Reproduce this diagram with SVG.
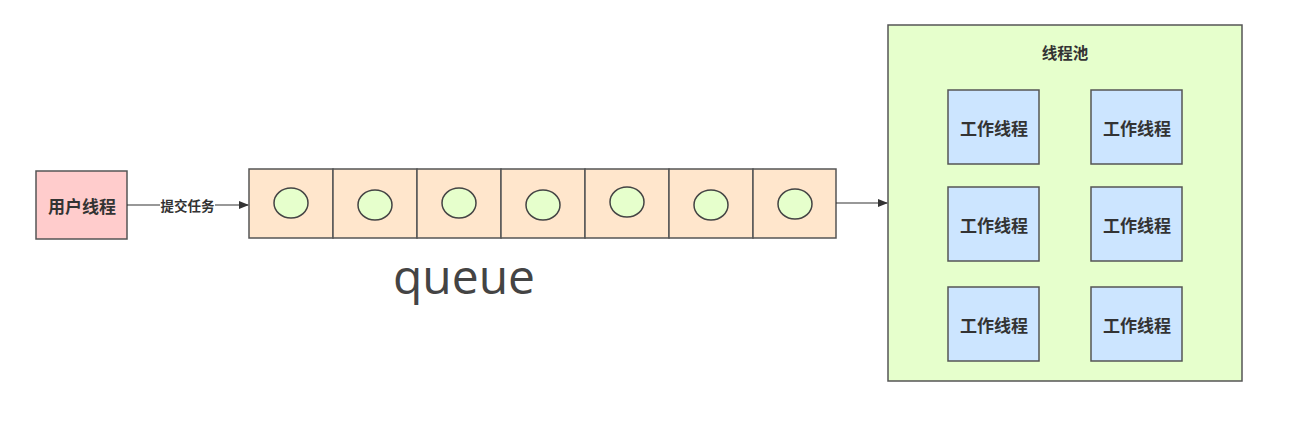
<svg xmlns="http://www.w3.org/2000/svg" width="1293" height="424" viewBox="0 0 1293 424">
<defs>
<style>
.box{stroke:#555;stroke-width:1.5}
.t{font-family:"Noto Sans CJK SC","Noto Sans",sans-serif;fill:#333;text-anchor:middle;dominant-baseline:central;font-weight:bold}
.cell{fill:#ffe6cc;stroke:#555;stroke-width:1.5}
.dot{fill:#e6ffcc;stroke:#444;stroke-width:1.5}
.w{fill:#cce5ff;stroke:#555;stroke-width:1.5}
.edge{stroke:#333;stroke-width:1.2;fill:none}
</style>
<marker id="ah" markerWidth="10" markerHeight="8" refX="9" refY="4" orient="auto" markerUnits="userSpaceOnUse">
<path d="M0,0 L10,4 L0,8 Z" fill="#333"/>
</marker>
</defs>
<rect width="1293" height="424" fill="#fff"/>
<g id="user-thread">
<rect x="36" y="171" width="91" height="68" fill="#ffcccc" class="box"/>
<text x="82" y="205" class="t" font-size="17">用户线程</text>
</g>
<g id="queue">
<rect x="249" y="169" width="84" height="69" class="cell"/>
<rect x="333" y="169" width="84" height="69" class="cell"/>
<rect x="417" y="169" width="84" height="69" class="cell"/>
<rect x="501" y="169" width="84" height="69" class="cell"/>
<rect x="585" y="169" width="84" height="69" class="cell"/>
<rect x="669" y="169" width="84" height="69" class="cell"/>
<rect x="753" y="169" width="83" height="69" class="cell"/>
<ellipse cx="291" cy="203" rx="17" ry="15" class="dot"/>
<ellipse cx="375" cy="205" rx="17" ry="15" class="dot"/>
<ellipse cx="459" cy="203" rx="17" ry="15" class="dot"/>
<ellipse cx="543" cy="205" rx="17" ry="15" class="dot"/>
<ellipse cx="627" cy="202" rx="17" ry="15" class="dot"/>
<ellipse cx="711" cy="205" rx="17" ry="15" class="dot"/>
<ellipse cx="795" cy="204" rx="17" ry="15" class="dot"/>
<text x="464" y="294" font-family="'Open Sans','Noto Sans',sans-serif" font-size="48" fill="#444" text-anchor="middle">queue</text>
</g>
<g id="thread-pool">
<rect x="888" y="25" width="354" height="356" fill="#e6ffcc" class="box"/>
<text x="1065" y="52" class="t" font-size="15.5">线程池</text>
</g>
<g id="worker-1"><rect x="948" y="90" width="91" height="74" class="w"/><text x="994" y="127" class="t" font-size="17">工作线程</text></g>
<g id="worker-2"><rect x="1091" y="90" width="91" height="74" class="w"/><text x="1137" y="127" class="t" font-size="17">工作线程</text></g>
<g id="worker-3"><rect x="948" y="187" width="91" height="74" class="w"/><text x="994" y="224" class="t" font-size="17">工作线程</text></g>
<g id="worker-4"><rect x="1091" y="187" width="91" height="74" class="w"/><text x="1137" y="224" class="t" font-size="17">工作线程</text></g>
<g id="worker-5"><rect x="948" y="287" width="91" height="74" class="w"/><text x="994" y="324" class="t" font-size="17">工作线程</text></g>
<g id="worker-6"><rect x="1091" y="287" width="91" height="74" class="w"/><text x="1137" y="324" class="t" font-size="17">工作线程</text></g>
<g id="connectors">
<path d="M127,205 H248" class="edge" marker-end="url(#ah)"/>
<rect x="160" y="197" width="55" height="16" fill="#fff"/>
<text x="187.5" y="205" class="t" font-size="13.5">提交任务</text>
<path d="M836,203 H887" class="edge" marker-end="url(#ah)"/>
</g>
</svg>
